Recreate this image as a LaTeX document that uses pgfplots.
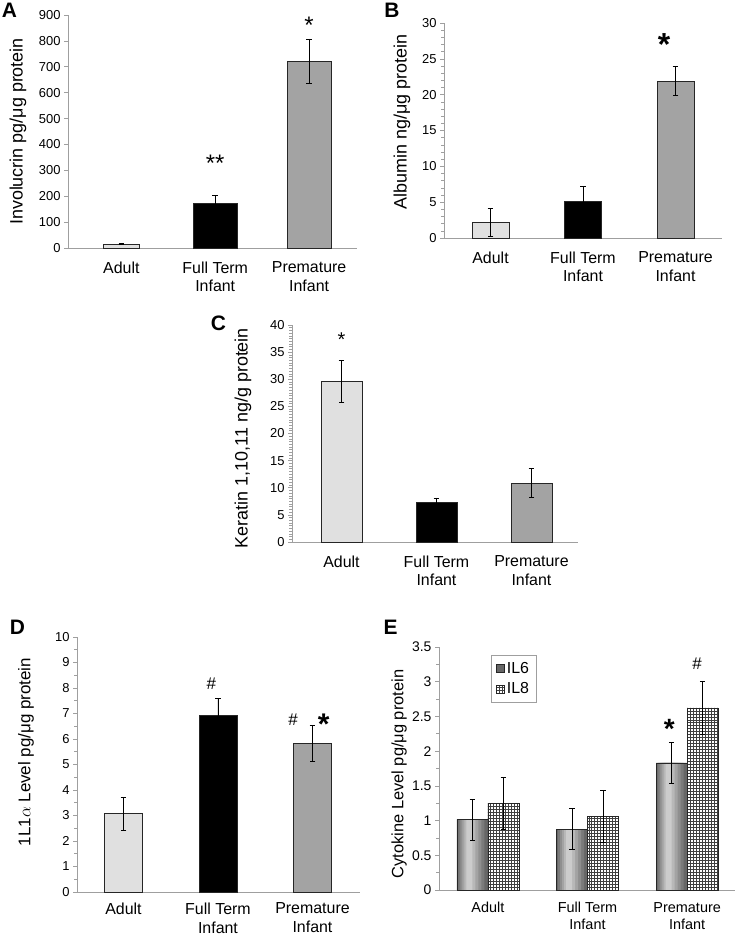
\documentclass[border=0pt]{standalone}
\usepackage{fontspec}
\setmainfont{Liberation Sans}
\usepackage{pgfplots}
\pgfplotsset{compat=1.18}
\usetikzlibrary{patterns}

\pgfdeclarepatternformonly{finegrid}{\pgfqpoint{-1pt}{-1pt}}{\pgfqpoint{4pt}{4pt}}{\pgfqpoint{3pt}{3pt}}{%
  \pgfsetlinewidth{0.6pt}%
  \pgfpathmoveto{\pgfqpoint{0pt}{0pt}}\pgfpathlineto{\pgfqpoint{3.1pt}{0pt}}%
  \pgfpathmoveto{\pgfqpoint{0pt}{0pt}}\pgfpathlineto{\pgfqpoint{0pt}{3.1pt}}%
  \pgfusepath{stroke}}

\colorlet{adultfill}{black!12}
\colorlet{premfill}{black!36}

\pgfplotsset{
  panel/.style={
    scale only axis, clip=false,
    anchor=south west,
    axis x line=bottom, axis y line=left,
    axis line style={-, draw=gray!75, line width=0.8bp},
    ymin=0,
    xtick={0,1,2},
    xticklabels={Adult,{Full Term\\Infant},{Premature\\Infant}},
    x tick style={draw=none},
    y tick style={draw=gray!75, line width=0.6bp},
    tick align=outside,
    major tick length=4bp, minor tick length=3bp,
    yticklabel style={font=\fontsize{13}{15}\selectfont},
    xticklabel style={font=\fontsize{16}{19}\selectfont, align=center, yshift=-6bp},
    /pgf/number format/assume math mode=true,
    ylabel style={font=\fontsize{18}{20}\selectfont, anchor=center},
    ybar,
    every axis plot/.append style={draw=black!85, line width=0.6bp},
    error bars/y dir=both, error bars/y explicit,
    error bars/error bar style={black, line width=0.7bp},
    error bars/error mark options={black, line width=0.7bp, mark size=2.8bp, rotate=90},
  },
  shadelayer/.style={forget plot, draw=none, error bars/y dir=none},
}

\begin{document}
\begin{tikzpicture}
\useasboundingbox (0bp,0bp) rectangle (737bp,935bp);

% ---------------- A ----------------
\begin{axis}[panel, at={(68bp,687bp)}, width=289bp, height=233bp,
  xmin=-0.568, xmax=2.51, ymax=900, ytick={0,100,...,900},
  ylabel={Involucrin pg/μg protein},
  ylabel style={at={(axis description cs:-0.173,0.5)}}]
\addplot[fill=adultfill, bar width=36bp, bar shift=0pt] coordinates {(0,15.4) +- (0,3)};
\addplot[fill=black, bar width=44bp, bar shift=0pt] coordinates {(1,173.6) +- (0,29.5)};
\addplot[fill=premfill, bar width=44bp, bar shift=0pt] coordinates {(2,722) +- (0,85.5)};
\node[font=\fontsize{24}{24}\selectfont, anchor=base] at (axis cs:1,293.6) {**};
\node[font=\fontsize{24}{24}\selectfont, anchor=base] at (axis cs:2,826.6) {*};
\end{axis}

% ---------------- B ----------------
\begin{axis}[panel, at={(444bp,697bp)}, width=278bp, height=215bp,
  xmin=-0.503, xmax=2.503, ymax=30, ytick={0,5,...,30}, minor y tick num=4,
  ylabel={Albumin ng/μg protein},
  ylabel style={at={(axis description cs:-0.151,0.54)}}]
\addplot[fill=adultfill, bar width=37bp, bar shift=0pt] coordinates {(0,2.18) +- (0,2.0)};
\addplot[fill=black, bar width=37bp, bar shift=0pt] coordinates {(1,5.15) +- (0,2.04)};
\addplot[fill=premfill, bar width=37bp, bar shift=0pt] coordinates {(2,21.88) +- (0,2.02)};
\node[font=\bfseries\fontsize{32}{32}\selectfont, anchor=base] at (axis cs:1.876,25.45) {*};
\end{axis}

% ---------------- C ----------------
\begin{axis}[panel, at={(292bp,393bp)}, width=286bp, height=217bp,
  xmin=-0.521, xmax=2.49, ymax=40, ytick={0,5,...,40}, minor y tick num=9,
  ylabel={Keratin 1,10,11 ng/g protein},
  ylabel style={at={(axis description cs:-0.171,0.479)}}]
\addplot[fill=adultfill, bar width=41bp, bar shift=0pt] coordinates {(0,29.57) +- (0,3.9)};
\addplot[fill=black, bar width=41bp, bar shift=0pt] coordinates {(1,7.36) +- (0,0.75)};
\addplot[fill=premfill, bar width=41bp, bar shift=0pt] coordinates {(2,10.86) +- (0,2.7)};
\node[font=\fontsize{20}{20}\selectfont, anchor=base] at (axis cs:0,36.0) {*};
\end{axis}

% ---------------- D ----------------
\begin{axis}[panel, at={(77bp,43bp)}, width=283bp, height=255bp,
  xmin=-0.492, xmax=2.503, ymax=10, ytick={0,1,...,10}, minor y tick num=1,
  xticklabel style={yshift=3bp},
  ylabel={1L1$\alpha$ Level pg/μg protein},
  ylabel style={at={(axis description cs:-0.180,0.549)}, font=\fontsize{17}{19}\selectfont}]
\addplot[fill=adultfill, bar width=38bp, bar shift=0pt] coordinates {(0,3.07) +- (0,0.65)};
\addplot[fill=black, bar width=38bp, bar shift=0pt] coordinates {(1,6.93) +- (0,0.65)};
\addplot[fill=premfill, bar width=38bp, bar shift=0pt] coordinates {(2,5.82) +- (0,0.7)};
\node[font=\fontsize{17}{17}\selectfont, anchor=base] at (axis cs:0.93,7.96) {\#};
\node[font=\fontsize{17}{17}\selectfont, anchor=base] at (axis cs:1.794,6.51) {\#};
\node[font=\bfseries\fontsize{30}{30}\selectfont, anchor=base] at (axis cs:2.12,6.16) {*};
\end{axis}

% ---------------- E ----------------
\begin{axis}[panel, at={(439bp,45bp)}, width=296bp, height=243bp,
  xmin=-0.49, xmax=2.48, ymax=3.5, ytick={0,0.5,...,3.5}, minor y tick num=1,
  yticklabel style={font=\fontsize{14}{16}\selectfont},
  xticklabel style={font=\fontsize{14.5}{17}\selectfont, yshift=1bp},
  ylabel={Cytokine Level pg/μg protein},
  ylabel style={at={(axis description cs:-0.135,0.477)}, font=\fontsize{16.5}{18}\selectfont},
  legend style={at={(0.176,0.967)}, anchor=north west, draw=gray!75,
    font=\fontsize{16}{18}\selectfont, row sep=4bp, inner sep=5bp},
  legend cell align=left,
  legend image code/.code={\draw[#1] (0bp,-4bp) rectangle (8bp,4bp);}]
% IL6: layered fills give the cylinder-like shading
\addplot[bar width=31bp, bar shift=-15.5bp, fill=black!60, error bars/y dir=none]
  coordinates {(0,1.016) (1,0.877) (2,1.831)};
\addplot[shadelayer, bar width=26bp, bar shift=-16.5bp, fill=black!52]
  coordinates {(0,1.016) (1,0.877) (2,1.831)};
\addplot[shadelayer, bar width=21bp, bar shift=-17bp, fill=black!44]
  coordinates {(0,1.016) (1,0.877) (2,1.831)};
\addplot[shadelayer, bar width=16bp, bar shift=-17.5bp, fill=black!36]
  coordinates {(0,1.016) (1,0.877) (2,1.831)};
\addplot[shadelayer, bar width=11bp, bar shift=-18bp, fill=black!28]
  coordinates {(0,1.016) (1,0.877) (2,1.831)};
\addplot[shadelayer, bar width=6bp, bar shift=-18.5bp, fill=black!20]
  coordinates {(0,1.016) (1,0.877) (2,1.831)};
\addplot[forget plot, bar width=31bp, bar shift=-15.5bp]
  coordinates {(0,1.016) +- (0,0.295) (1,0.877) +- (0,0.295) (2,1.831) +- (0,0.3)};
% IL8
\addplot[bar width=31bp, bar shift=15.5bp, fill=white, pattern=finegrid, pattern color=black!75]
  coordinates {(0,1.246) +- (0,0.375) (1,1.064) +- (0,0.376) (2,2.622) +- (0,0.384)};
\legend{IL6, IL8}
\node[font=\bfseries\fontsize{28}{28}\selectfont, anchor=base] at (axis cs:1.82,2.18) {*};
\node[font=\fontsize{17}{17}\selectfont, anchor=base] at (axis cs:2.10,3.17) {\#};
\end{axis}

% panel letters
\node[font=\bfseries\fontsize{21}{21}\selectfont] at (9.5bp,924.5bp) {A};
\node[font=\bfseries\fontsize{21}{21}\selectfont] at (392bp,924.5bp) {B};
\node[font=\bfseries\fontsize{21}{21}\selectfont] at (218.5bp,612bp) {C};
\node[font=\bfseries\fontsize{21}{21}\selectfont] at (17.5bp,308bp) {D};
\node[font=\bfseries\fontsize{21}{21}\selectfont] at (390.5bp,307.5bp) {E};
\end{tikzpicture}
\end{document}
